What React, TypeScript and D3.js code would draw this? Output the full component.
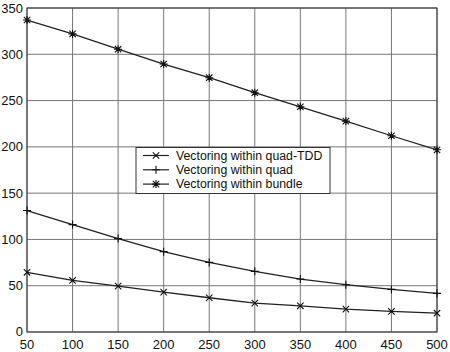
import * as d3 from 'd3';

const xValues = [50, 100, 150, 200, 250, 300, 350, 400, 450, 500];
const quadTdd = [64.5, 55.7, 49.6, 43.1, 37, 31.2, 28.3, 24.7, 22.2, 20.3];
const quad = [131.2, 116, 100.9, 86.8, 75.2, 65.5, 57.2, 51.1, 46, 41.7];
const bundle = [337, 322, 305.5, 289.5, 274.7, 258.5, 243.3, 227.8, 212, 196.8];
const xTicks = [50, 100, 150, 200, 250, 300, 350, 400, 450, 500];
const yTicks = [0, 50, 100, 150, 200, 250, 300, 350];

const seriesNames = ['Vectoring within quad-TDD', 'Vectoring within quad', 'Vectoring within bundle'];
const seriesData = [quadTdd, quad, bundle];
const markers = ['x', 'plus', 'star'];

const W = 450;
const H = 352;
const margin = { top: 8, right: 13, bottom: 20, left: 27 };

function Marker({ kind, cx, cy }: { kind: string; cx: number; cy: number }) {
  const r = 4;
  const d = 3.2;
  const parts: string[] = [];
  if (kind === 'x' || kind === 'star') {
    parts.push(`M${cx - d},${cy - d}L${cx + d},${cy + d}M${cx - d},${cy + d}L${cx + d},${cy - d}`);
  }
  if (kind === 'plus' || kind === 'star') {
    parts.push(`M${cx - r},${cy}L${cx + r},${cy}M${cx},${cy - r}L${cx},${cy + r}`);
  }
  return <path d={parts.join('')} stroke="#111" strokeWidth={1.1} fill="none" />;
}

export default function App() {
  const innerW = W - margin.left - margin.right;
  const innerH = H - margin.top - margin.bottom;

  const x = d3.scaleLinear().domain([50, 500]).range([margin.left, margin.left + innerW]);
  const y = d3.scaleLinear().domain([0, 350]).range([margin.top + innerH, margin.top]);

  const line = d3.line<number>()
    .x((_, i) => x(xValues[i]))
    .y(d => y(d));

  const legend = { x: 136, y: 147.5, w: 194, h: 46 };

  return (
    <svg
      width={W}
      height={H}
      style={{ position: 'absolute', left: 0, top: 0, background: '#fff' }}
      fontFamily="'Liberation Sans', Arial, sans-serif"
    >
      {/* grid */}
      {xTicks.map(t => (
        <line key={'gx' + t} x1={x(t)} x2={x(t)} y1={y(0)} y2={y(350)} stroke="#777" strokeWidth={1} />
      ))}
      {yTicks.map(t => (
        <line key={'gy' + t} x1={x(50)} x2={x(500)} y1={y(t)} y2={y(t)} stroke="#777" strokeWidth={1} />
      ))}
      <rect x={x(50)} y={y(350)} width={innerW} height={innerH} fill="none" stroke="#333" strokeWidth={1} />

      {/* tick labels */}
      {yTicks.map(t => (
        <text key={'ty' + t} x={x(50) - 4} y={y(t) - (t === 0 ? 0.5 : 0)} dy="0.35em" textAnchor="end" fontSize={13} fill="#111">
          {t}
        </text>
      ))}
      {xTicks.map(t => (
        <text key={'tx' + t} x={x(t)} y={y(0) + 16.5} textAnchor="middle" fontSize={13} fill="#111">
          {t}
        </text>
      ))}

      {/* series */}
      {seriesData.map((s, si) => (
        <g key={'s' + si}>
          <path d={line(s) ?? ''} fill="none" stroke="#222" strokeWidth={1.3} />
          {s.map((v, i) => (
            <Marker key={i} kind={markers[si]} cx={x(xValues[i])} cy={y(v)} />
          ))}
        </g>
      ))}

      {/* legend */}
      <rect x={legend.x} y={legend.y} width={legend.w} height={legend.h} fill="#fff" stroke="#333" strokeWidth={1} />
      {seriesNames.map((name, i) => {
        const ly = legend.y + 8 + i * 14.3;
        return (
          <g key={'l' + i}>
            <line x1={legend.x + 7} x2={legend.x + 33} y1={ly} y2={ly} stroke="#222" strokeWidth={1.2} />
            <Marker kind={markers[i]} cx={legend.x + 20} cy={ly} />
            <text x={legend.x + 40} y={ly} dy="0.35em" fontSize={12.3} fill="#111">
              {name}
            </text>
          </g>
        );
      })}
    </svg>
  );
}
